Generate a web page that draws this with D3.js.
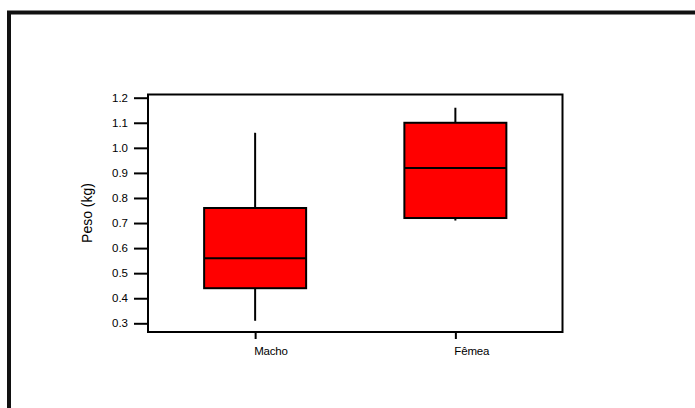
<!DOCTYPE html>
<html><head><meta charset="utf-8">
<script src="https://cdn.jsdelivr.net/npm/d3@7"></script>
<style>
html,body{margin:0;padding:0;background:#fff;overflow:hidden}
text{font-family:"Liberation Sans",Arial,sans-serif;fill:#000}
</style></head>
<body><svg id="c" width="695" height="408"></svg>
<script>
const categories = ["Macho", "Fêmea"];
const whiskerLow = [0.31, 0.71];
const q1 = [0.44, 0.72];
const median = [0.56, 0.92];
const q3 = [0.76, 1.10];
const whiskerHigh = [1.06, 1.16];
const yTicks = [0.3,0.4,0.5,0.6,0.7,0.8,0.9,1.0,1.1,1.2];
const yLabel = "Peso (kg)";

const svg = d3.select("#c");
// outer frame
svg.append("rect").attr("x",9).attr("y",12.5).attr("width",720).attr("height",420)
  .attr("fill","none").attr("stroke","#111").attr("stroke-width",4);

const L=148, R=562.5, T=94.5, B=332;
const x = d3.scalePoint().domain(categories).range([L,R]).padding(0.535);
const y = d3.scaleLinear().domain([0.2653,1.2128]).range([B,T]);

const yAxis = svg.append("g").attr("transform",`translate(${L},0)`)
  .call(d3.axisLeft(y).tickValues(yTicks).tickFormat(d3.format(".1f")).tickSize(14).tickPadding(6));
yAxis.select(".domain").remove();
yAxis.selectAll("line").attr("stroke","#000").attr("stroke-width",2);
yAxis.selectAll("text").attr("font-size",11.5).attr("font-family","Liberation Sans, Arial, sans-serif");

const xAxis = svg.append("g").attr("transform",`translate(0,${B})`)
  .call(d3.axisBottom(x).tickSize(7).tickPadding(8));
xAxis.select(".domain").remove();
xAxis.selectAll("line").attr("stroke","#000").attr("stroke-width",2);
xAxis.selectAll("text").attr("font-size",11.5).attr("text-anchor","start").attr("dx",-1.5)
  .attr("font-family","Liberation Sans, Arial, sans-serif").attr("letter-spacing","-0.2");

svg.append("rect").attr("x",L).attr("y",T).attr("width",R-L).attr("height",B-T)
  .attr("fill","none").attr("stroke","#000").attr("stroke-width",2);

const bw = 102;
categories.forEach((c,i)=>{
  const cx = x(c);
  svg.append("line").attr("x1",cx).attr("x2",cx).attr("y1",y(whiskerHigh[i])).attr("y2",y(whiskerLow[i]))
    .attr("stroke","#000").attr("stroke-width",2);
  svg.append("rect").attr("x",cx-bw/2).attr("width",bw).attr("y",y(q3[i])).attr("height",y(q1[i])-y(q3[i]))
    .attr("fill","#ff0000").attr("stroke","#000").attr("stroke-width",2);
  svg.append("line").attr("x1",cx-bw/2).attr("x2",cx+bw/2).attr("y1",y(median[i])).attr("y2",y(median[i]))
    .attr("stroke","#000").attr("stroke-width",2);
});

svg.append("text").attr("transform","translate(92,213) rotate(-90)").attr("text-anchor","middle")
  .attr("font-size",14).text(yLabel);
</script></body></html>
